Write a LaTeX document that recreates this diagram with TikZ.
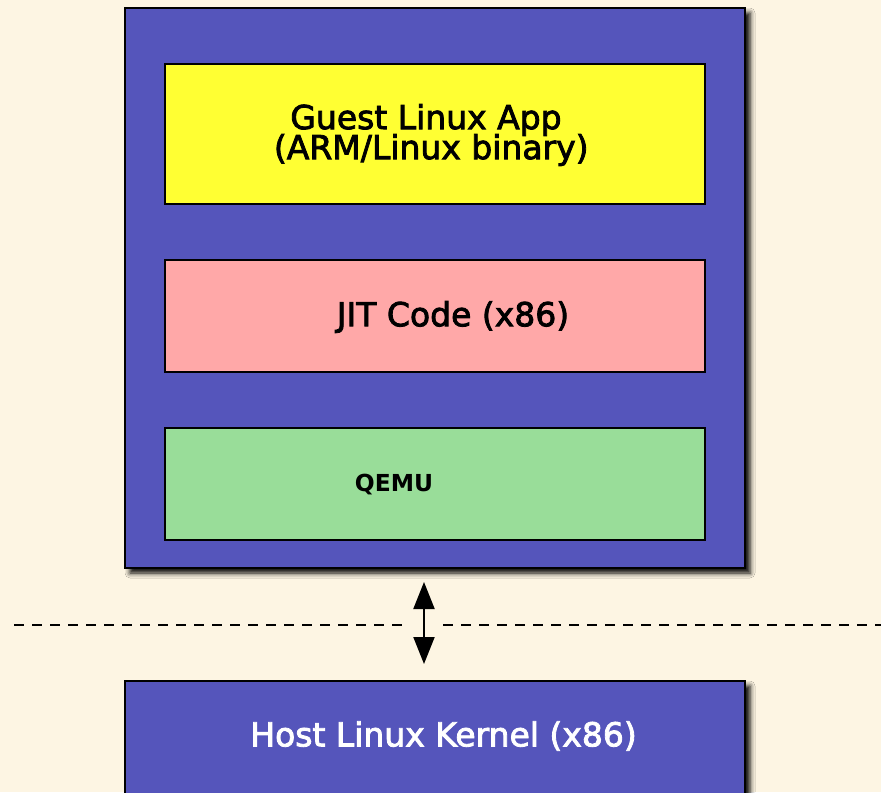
\documentclass[tikz,border=0pt]{standalone}
\usepackage{fontspec}
\setmainfont{DejaVu Sans}
\newfontfamily\heavysans[FakeBold=2.5]{DejaVu Sans}
\newcommand{\captionfont}{\heavysans\fontsize{16.5}{15}\selectfont\lineskiplimit -20pt\relax}
\usepackage{tikz}
\usetikzlibrary{arrows.meta, positioning, shadows.blur}
\definecolor{paper}{RGB}{253,245,227}
\definecolor{hostblue}{RGB}{85,85,187}
\definecolor{appyellow}{RGB}{255,255,51}
\definecolor{jitpink}{RGB}{255,168,168}
\definecolor{qemugreen}{RGB}{153,221,153}
\tikzset{
    layer/.style={draw, line width=0.7pt, inner sep=0pt, minimum width=270pt},
    frame/.style={draw, line width=0.8pt, fill=hostblue, inner sep=0pt, minimum width=310pt,
        blur shadow={shadow xshift=2.5pt, shadow yshift=-2.5pt, shadow blur radius=2.5pt, shadow opacity=100}},
    caption/.style={font=\captionfont, align=center, inner sep=0pt}
}

\begin{document}
\begin{tikzpicture}[x=0.5pt, y=-0.5pt]
    \fill[paper] (0,0) rectangle (881,792);
    \useasboundingbox (0,0) rectangle (881,792);
    \clip (0,0) rectangle (881,792);
    % guest side
    \node[frame, minimum height=280pt] (vm) at (435,288) {};
    \node[layer, fill=appyellow, minimum height=70pt] (app) at (435,134) {};
    \node[layer, fill=jitpink, minimum height=56pt] (jit) at (435,316) {};
    \node[layer, fill=qemugreen, minimum height=56pt] (qemu) at (435,484) {};
    \node[caption] (apptext) at (426,135) {Guest Linux App\\\ (ARM/Linux binary)};
    \node[caption] (jittext) at (453,317) {JIT Code (x86)};
    \node[caption, font=\fontsize{11.7}{14}\selectfont\bfseries] (qemutext) at (394,485) {QEMU};
    % host side
    \node[frame, minimum height=80pt] (host) at (435,761) {};
    \node[caption, text=white] (hosttext) at (443.5,736) {Host Linux Kernel (x86)};
    % boundary
    \draw[line width=0.75pt, dash pattern=on 5pt off 4pt] (14,625) -- (407,625);
    \draw[line width=0.75pt, dash pattern=on 5pt off 4pt] (443,625) -- (881,625);
    \coordinate (up) at (424,582);
    \coordinate (down) at (424,664);
    \draw[{Triangle[width=10.5pt,length=13.5pt]}-{Triangle[width=10.5pt,length=13.5pt]}, line width=1pt] (up) -- (down);
\end{tikzpicture}
\end{document}
